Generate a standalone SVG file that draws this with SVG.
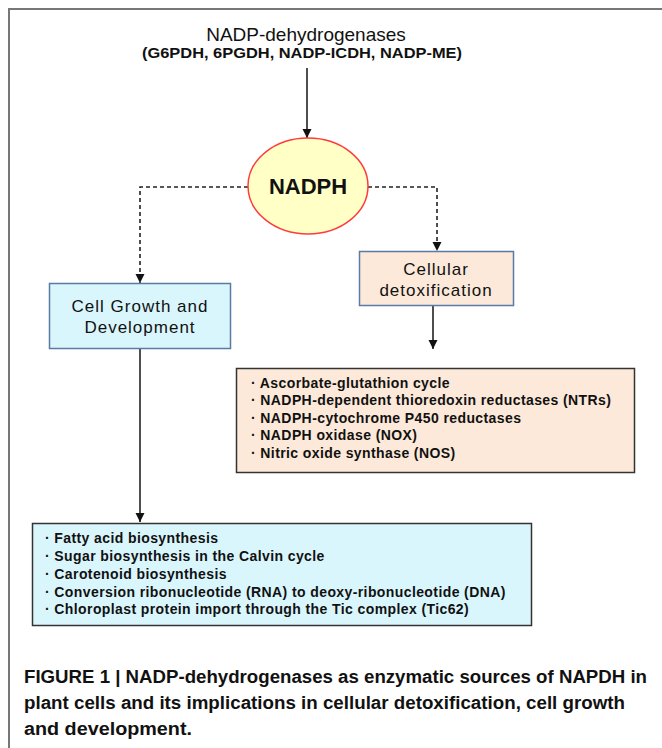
<svg xmlns="http://www.w3.org/2000/svg" width="662" height="748" viewBox="0 0 662 748">
<style>
  .sans{font-family:"Liberation Sans",Arial,sans-serif;}
  .conn{fill:none;stroke:#222;stroke-width:1.6;}
  .dash{stroke-dasharray:4 3;}
  .node{font-size:17px;letter-spacing:1px;fill:#111;text-anchor:middle;}
  .list{font-size:14px;font-weight:bold;letter-spacing:0.4px;fill:#111;}
  .cap{font-size:18px;font-weight:bold;fill:#111;}
</style>
<defs>
  <marker id="ah" markerUnits="userSpaceOnUse" markerWidth="10" markerHeight="10" refX="9" refY="5" orient="auto">
    <path d="M0,0.5 L9,5 L0,9.5 z" fill="#111"/>
  </marker>
</defs>
<rect width="662" height="748" fill="#fff"/>
<g id="frame" stroke="#777" stroke-width="2" fill="none">
  <path d="M9,748 V9 H662"/>
</g>

<g id="source" class="sans">
  <text x="306" y="41" font-size="19" text-anchor="middle" fill="#111">NADP-dehydrogenases</text>
  <text x="302" y="58" font-size="15.5" font-weight="bold" text-anchor="middle" fill="#111" textLength="320" lengthAdjust="spacingAndGlyphs">(G6PDH, 6PGDH, NADP-ICDH, NADP-ME)</text>
</g>

<g id="connectors" class="conn">
  <path d="M307,68 V138" marker-end="url(#ah)"/>
  <path class="dash" d="M248,187 H140 V283" marker-end="url(#ah)"/>
  <path class="dash" d="M368,187 H437 V251" marker-end="url(#ah)"/>
  <path d="M433,306 V349" marker-end="url(#ah)"/>
  <path d="M140,349 V522" marker-end="url(#ah)"/>
</g>

<g id="nadph" class="sans">
  <ellipse cx="308" cy="186" rx="60" ry="48" fill="#ffffc6" stroke="#ff3b3b" stroke-width="1.5"/>
  <text x="308" y="194" font-size="22" font-weight="bold" text-anchor="middle" fill="#111">NADPH</text>
</g>

<g id="growth" class="sans">
  <rect x="49.5" y="283.5" width="181" height="65" fill="#daf6fd" stroke="#5a7aa8" stroke-width="1.5"/>
  <text class="node" x="140" y="312">Cell Growth and</text>
  <text class="node" x="140" y="333">Development</text>
</g>

<g id="detox" class="sans">
  <rect x="359.5" y="251.5" width="154" height="54" fill="#fce9da" stroke="#5a7aa8" stroke-width="1.5"/>
  <text class="node" x="436" y="275">Cellular</text>
  <text class="node" x="436" y="296">detoxification</text>
</g>

<g id="detox-list" class="sans">
  <rect x="236.5" y="368.5" width="398" height="104" fill="#fde9d9" stroke="#333" stroke-width="1.5"/>
  <text class="list" x="251" y="388">· Ascorbate-glutathion cycle</text>
  <text class="list" x="251" y="405">· NADPH-dependent thioredoxin reductases (NTRs)</text>
  <text class="list" x="251" y="423">· NADPH-cytochrome P450 reductases</text>
  <text class="list" x="251" y="440">· NADPH oxidase (NOX)</text>
  <text class="list" x="251" y="458">· Nitric oxide synthase (NOS)</text>
</g>

<g id="growth-list" class="sans">
  <rect x="32.5" y="523.5" width="499" height="102" fill="#daf6fd" stroke="#333" stroke-width="1.5"/>
  <text class="list" x="45" y="543">· Fatty acid biosynthesis</text>
  <text class="list" x="45" y="561">· Sugar biosynthesis in the Calvin cycle</text>
  <text class="list" x="45" y="579">· Carotenoid biosynthesis</text>
  <text class="list" x="45" y="597">· Conversion ribonucleotide (RNA) to deoxy-ribonucleotide (DNA)</text>
  <text class="list" x="45" y="614">· Chloroplast protein import through the Tic complex (Tic62)</text>
</g>

<g id="caption" class="sans">
  <text class="cap" x="24" y="683" textLength="623" lengthAdjust="spacingAndGlyphs">FIGURE 1 | NADP-dehydrogenases as enzymatic sources of NAPDH in</text>
  <text class="cap" x="24" y="709" textLength="601" lengthAdjust="spacingAndGlyphs">plant cells and its implications in cellular detoxification, cell growth</text>
  <text class="cap" x="24" y="735" textLength="168" lengthAdjust="spacingAndGlyphs">and development.</text>
</g>
</svg>
